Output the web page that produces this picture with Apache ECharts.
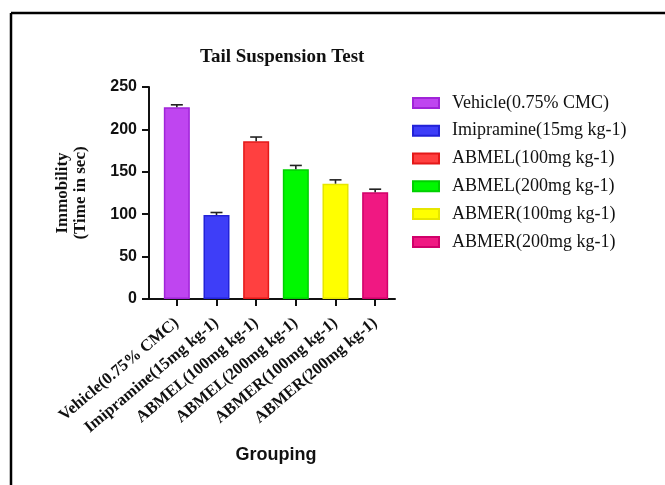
<!DOCTYPE html>
<html><head><meta charset="utf-8">
<script src="https://cdn.jsdelivr.net/npm/echarts@6/dist/echarts.min.js"></script>
<style>html,body{margin:0;padding:0;background:#fff}#c{width:665px;height:485px}</style>
</head><body><div id="c"></div>
<script>
var categories = ['Vehicle(0.75% CMC)','Imipramine(15mg kg-1)','ABMEL(100mg kg-1)','ABMEL(200mg kg-1)','ABMER(100mg kg-1)','ABMER(200mg kg-1)'];
var means = [226, 99, 186, 153, 136, 126];
var errors = [3, 3, 5, 4.5, 4.5, 3.5];
var yTicks = [0, 50, 100, 150, 200, 250];
var fills = ['#BF45F0','#3E3EF8','#FF4040','#00F800','#FFFF00','#F01882'];
var borders = ['#A024D8','#2222D8','#E41818','#00D000','#E6E600','#D0006A'];

var chart = echarts.init(document.getElementById('c'));
var serif = '"Liberation Serif", "Times New Roman", serif';
var sans = '"Liberation Sans", Arial, sans-serif';

var series = categories.map(function(name, i){
  var d = categories.map(function(c, j){ return j === i ? means[j] : '-'; });
  return {
    name: name, type: 'bar', xAxisIndex: 1, yAxisIndex: 1,
    data: d, barWidth: 26, barGap: '-100%',
    itemStyle: { color: fills[i], borderColor: borders[i], borderWidth: 1.5 },
    z: 2
  };
});
series.push({
  type: 'custom', xAxisIndex: 1, yAxisIndex: 1, z: 5,
  data: means.map(function(m, i){ return [i, m, m + errors[i]]; }),
  renderItem: function(params, api){
    var x = api.value(0);
    var p1 = api.coord([x, api.value(1)]);
    var p2 = api.coord([x, api.value(2)]);
    var st = { stroke: '#222', lineWidth: 1.6 };
    return { type: 'group', children: [
      { type: 'line', shape: { x1: p1[0], y1: p1[1], x2: p2[0], y2: p2[1] }, style: st },
      { type: 'line', shape: { x1: p2[0]-6, y1: p2[1], x2: p2[0]+6, y2: p2[1] }, style: st }
    ]};
  }
});

chart.setOption({
  animation: false,
  title: { text: 'Tail Suspension Test', left: 195, top: 43,
    textStyle: { fontFamily: serif, fontWeight: 'bold', fontSize: 19, color: '#111' } },
  graphic: [
    { type: 'line', shape: { x1: 11, y1: 13, x2: 680, y2: 13 }, style: { stroke: '#000', lineWidth: 2.5 } },
    { type: 'line', shape: { x1: 11, y1: 13, x2: 11, y2: 500 }, style: { stroke: '#000', lineWidth: 2.5 } }
  ],
  legend: {
    orient: 'vertical', left: 407, top: 84, itemWidth: 26, itemHeight: 10, itemGap: 0,
    icon: 'rect',
    textStyle: { fontFamily: serif, fontSize: 18, color: '#111', lineHeight: 27.8, padding: [0,0,0,8] },
    data: categories
  },
  grid: [
    { left: 149, top: 87, width: 246, height: 212 },
    { left: 157, top: 87, width: 238, height: 212 }
  ],
  xAxis: [
    { gridIndex: 0, type: 'category', data: categories, axisTick: { show: false }, axisLabel: { show: false },
      axisLine: { lineStyle: { color: '#111', width: 2 } } },
    { gridIndex: 1, type: 'category', data: categories,
      axisLine: { show: false },
      axisTick: { show: true, alignWithLabel: true, length: 7, lineStyle: { color: '#111', width: 2 } },
      axisLabel: { rotate: 40, margin: 22, fontFamily: serif, fontWeight: 'bold', fontSize: 16.5, color: '#111', interval: 0 },
      name: 'Grouping', nameLocation: 'middle', nameGap: 147,
      nameTextStyle: { fontFamily: sans, fontWeight: 'bold', fontSize: 18, color: '#111' } }
  ],
  yAxis: [
    { gridIndex: 0, type: 'value', min: 0, max: 250, interval: 50,
      axisLine: { show: true, lineStyle: { color: '#111', width: 2 } },
      axisTick: { show: true, length: 7, lineStyle: { color: '#111', width: 2 } },
      splitLine: { show: false },
      axisLabel: { margin: 12, fontFamily: sans, fontWeight: 'bold', fontSize: 16, color: '#111',
        formatter: function(v){ return yTicks.indexOf(v) >= 0 ? String(v) : ''; } },
      name: 'Immobility\n(Time in sec)', nameLocation: 'middle', nameGap: 59,
      nameTextStyle: { fontFamily: serif, fontWeight: 'bold', fontSize: 17, color: '#111', lineHeight: 18 } },
    { gridIndex: 1, type: 'value', min: 0, max: 250, interval: 50, show: false }
  ],
  series: series
});
</script>
</body></html>
